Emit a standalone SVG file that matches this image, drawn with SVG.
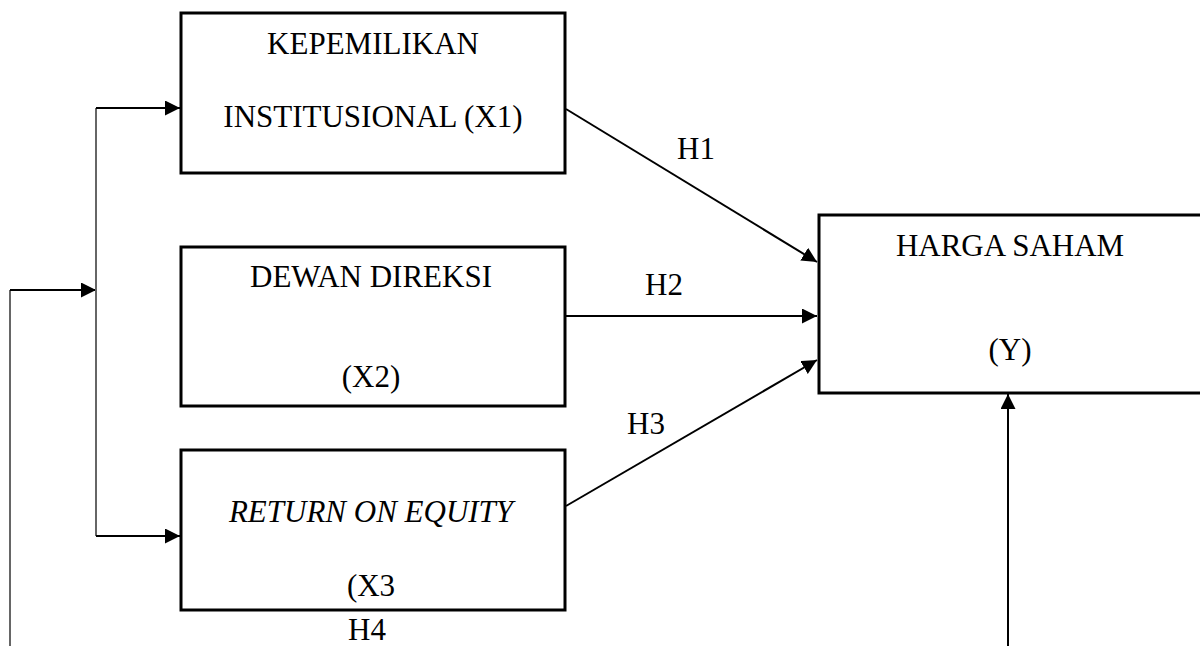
<svg xmlns="http://www.w3.org/2000/svg" width="1200" height="646" viewBox="0 0 1200 646">
<style>
.box{fill:#fff;stroke:#000;stroke-width:3}
.t{font-family:"Liberation Serif","Times New Roman",serif;font-size:31px;fill:#000;text-anchor:middle}
.it{font-style:italic}
.c{fill:none;stroke:#000;stroke-width:2}
.g{fill:none;stroke:#666;stroke-width:2}
</style>
<defs>
<marker id="ah" markerUnits="userSpaceOnUse" markerWidth="15" markerHeight="15" refX="15" refY="7.5" orient="auto">
<path d="M0,0 L15,7.5 L0,15 Z" fill="#000"/>
</marker>
</defs>
<rect width="1200" height="646" fill="#fff"/>
<g id="connectors">
<polyline class="g" points="10,646 10,290"/>
<line class="c" x1="10" y1="290" x2="96" y2="290" marker-end="url(#ah)"/>
<polyline class="g" points="96,108 96,536"/>
<line class="c" x1="96" y1="108" x2="180" y2="108" marker-end="url(#ah)"/>
<line class="c" x1="96" y1="536" x2="180" y2="536" marker-end="url(#ah)"/>
<line class="c" x1="566" y1="109" x2="817" y2="262" marker-end="url(#ah)"/>
<line class="c" x1="566" y1="316" x2="817" y2="316" marker-end="url(#ah)"/>
<line class="c" x1="566" y1="506" x2="817" y2="360" marker-end="url(#ah)"/>
<line class="c" x1="1008" y1="646" x2="1008" y2="394" marker-end="url(#ah)"/>
<text class="t" x="696" y="159">H1</text>
<text class="t" x="664" y="295">H2</text>
<text class="t" x="646" y="434">H3</text>
<text class="t" x="367" y="640">H4</text>
</g>
<g id="x1">
<rect class="box" x="181" y="13" width="384" height="160"/>
<text class="t" x="373" y="54">KEPEMILIKAN</text>
<text class="t" x="373" y="127">INSTITUSIONAL (X1)</text>
</g>
<g id="x2">
<rect class="box" x="181" y="247" width="384" height="159"/>
<text class="t" x="371" y="287">DEWAN DIREKSI</text>
<text class="t" x="371" y="387">(X2)</text>
</g>
<g id="x3">
<rect class="box" x="181" y="450" width="384" height="160"/>
<text class="t it" x="371" y="522">RETURN ON EQUITY</text>
<text class="t" x="371" y="596">(X3</text>
</g>
<g id="y">
<rect class="box" x="819" y="215" width="384" height="178"/>
<text class="t" x="1010" y="256">HARGA SAHAM</text>
<text class="t" x="1010" y="360">(Y)</text>
</g>
</svg>
